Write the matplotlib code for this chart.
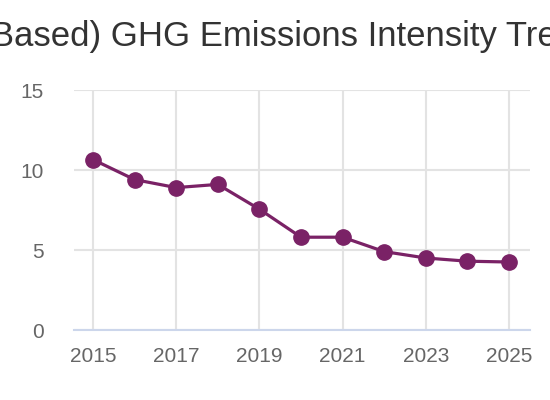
import matplotlib
matplotlib.use("Agg")
import matplotlib.pyplot as plt

# --------------------------------------------
# DATA
# --------------------------------------------
years = [2015, 2016, 2017, 2018, 2019, 2020, 2021, 2022, 2023, 2024, 2025]
intensity = [10.65, 9.4, 8.9, 9.1, 7.55, 5.8, 5.8, 4.9, 4.5, 4.3, 4.25]
x_ticks = [2015, 2017, 2019, 2021, 2023, 2025]
y_ticks = [0, 5, 10, 15]
title = "Scope 2 (Market-Based) GHG Emissions Intensity Trend"
hidden_prefix = "Scope 2 (Market-"

plt.rcParams['font.family'] = ['Liberation Sans', 'DejaVu Sans']

# --------------------------------------------
# PLOT
# --------------------------------------------
fig = plt.figure(figsize=(5.5, 4), dpi=100)
ax = fig.add_axes([74 / 550, 70 / 400, 456 / 550, 240 / 400])

ax.plot(years, intensity, color='#7a2266', linewidth=2.3,
        marker='o', markersize=11, zorder=3)

ax.set_xlim(2014.543, 2025.505)
ax.set_ylim(0, 15)
ax.set_xticks(x_ticks)
ax.set_yticks(y_ticks)
ax.grid(True, color='#e3e3e3', linewidth=1.5)
ax.set_axisbelow(True)
ax.tick_params(length=0, labelsize=15, labelcolor='#666666')
ax.tick_params(axis='y', pad=22)
ax.tick_params(axis='x', pad=12)
for side in ['top', 'right', 'left']:
    ax.spines[side].set_visible(False)
ax.spines['bottom'].set_color('#ccd6eb')
ax.spines['bottom'].set_linewidth(1.5)

# title is wider than the figure; shift so the visible part lines up
renderer = fig.canvas.get_renderer()
tmp = fig.text(0, 0, hidden_prefix, fontsize=25)
prefix_w = tmp.get_window_extent(renderer).width
tmp.remove()
fig.text((-9 - prefix_w) / 550, 354 / 400, title, fontsize=25,
         color='#333333', ha='left', va='baseline')

fig.savefig("out.png", dpi=100)
plt.close(fig)
